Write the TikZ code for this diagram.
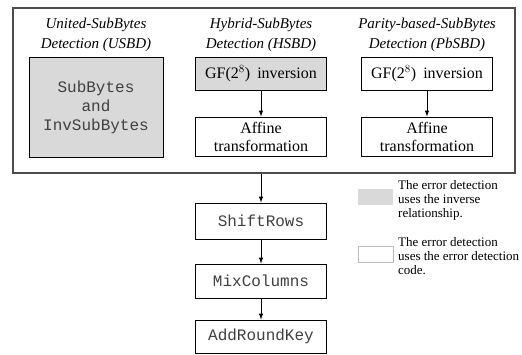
\documentclass[tikz,border=0pt]{standalone}
\usepackage{fontspec}
\setmainfont{Liberation Serif}
\setmonofont{Liberation Mono}
\usepackage{xcolor}
\usetikzlibrary{arrows,positioning}
\definecolor{boxgray}{gray}{0.85}
\tikzset{
	block/.style={
			draw, line width=1pt, align=center, inner sep=0pt,
			minimum width=131pt, font=\fontsize{16}{18}\selectfont
		},
	shaded/.style={block, fill=boxgray},
	title/.style={align=center, font=\fontsize{15}{20}\selectfont\itshape},
	flow/.style={-latex, line width=1pt},
	swatch/.style={minimum width=35pt, minimum height=16pt, inner sep=0pt},
	legend/.style={anchor=north west, align=left, inner sep=0pt, font=\fontsize{13}{14}\selectfont}
}
\newcommand{\op}[1]{{\fontsize{16}{19}\selectfont\color{black!75}\texttt{#1}}}

\begin{document}
\begin{tikzpicture}[x=1pt, y=-1pt]
		\useasboundingbox (0,0) rectangle (522,354);

		\node[draw=black!70, line width=1.2pt, minimum width=502pt, minimum height=165pt, inner sep=0pt] (frame) at (264,90.5) {};

		\node[title] (usbdtitle) at (96,35) {United-SubBytes\\Detection (USBD)};
		\node[title] (hsbdtitle) at (261,35) {Hybrid-SubBytes\\Detection (HSBD)};
		\node[title] (pbsbdtitle) at (427,35) {Parity-based-SubBytes\\Detection (PbSBD)};

		\node[shaded, minimum width=134pt, minimum height=100pt, font=\fontsize{16}{19}\selectfont\ttfamily\color{black!75}] (usbd) at (96,107) {SubBytes\\and\\InvSubBytes};

		\node[shaded, minimum height=33pt] (hgf) at (261,73.5) {GF(2$^8$)\hspace{3pt} inversion};
		\node[block, minimum height=39pt] (haff) at (261,136.5) {Affine\\transformation};
		\node[block, minimum height=33pt] (pgf) at (427,73.5) {GF(2$^8$)\hspace{3pt} inversion};
		\node[block, minimum height=39pt] (paff) at (427,136.5) {Affine\\transformation};

		\draw[flow] (hgf) -- (haff);
		\draw[flow] (pgf) -- (paff);

		\node[block, minimum height=36pt] (shift) at (261,221) {\op{ShiftRows}};
		\node[block, minimum height=34pt] (mix) at (261,281) {\op{MixColumns}};
		\node[block, minimum height=33pt] (ark) at (261,336.5) {\op{AddRoundKey}};

		\draw[flow] (frame.south -| shift.north) -- (shift);
		\draw[flow] (shift) -- (mix);
		\draw[flow] (mix) -- (ark);

		% legend
		\node[swatch, fill=boxgray] (inv) at (375.5,196.5) {};
		\node[swatch, draw=black!25, line width=0.8pt] (code) at (375.5,254.5) {};
		\node[legend] (invtext) at (398,180) {The error detection\\uses the inverse\\relationship.};
		\node[legend] (codetext) at (398,237) {The error detection\\uses the error detection\\code.};
	\end{tikzpicture}
\end{document}
